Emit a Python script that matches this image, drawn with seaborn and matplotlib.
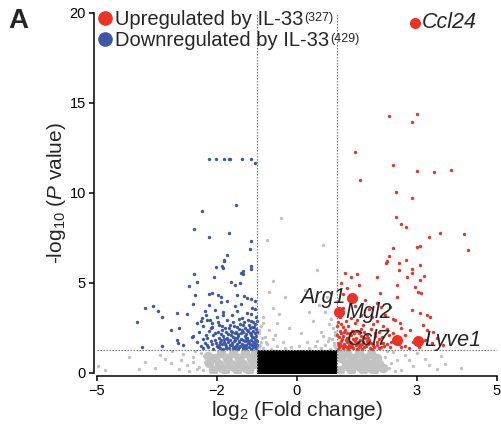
import pandas as pd
import matplotlib
matplotlib.use("Agg")
import matplotlib.pyplot as plt
from matplotlib.lines import Line2D
import seaborn as sns

sns.set_style("ticks")
plt.rcParams["font.family"] = ["Liberation Sans", "DejaVu Sans"]
plt.rcParams["mathtext.fontset"] = "custom"
plt.rcParams["mathtext.rm"] = "Liberation Sans"
plt.rcParams["mathtext.it"] = "Liberation Sans:italic"

RED = "#ec3226"
BLUE = "#3d58a8"
GRAY = "#c2c2c2"

# (log2 fold change, -log10 P)
up_points = [
    (2.31, 14.28), (2.99, 14.37), (2.88, 13.94), (1.44, 12.26), (2.41, 11.56), (3.01, 11.22),
    (3.43, 11.17), (3.84, 11.26), (1.57, 10.74), (2.48, 10.06), (2.87, 9.72), (2.48, 8.69),
    (2.59, 8.28), (2.73, 8.13), (3.30, 7.56), (3.58, 7.78), (4.18, 7.70), (2.39, 6.94),
    (3.01, 6.98), (3.08, 7.04), (4.28, 6.83), (2.31, 6.50), (2.24, 6.20), (2.22, 6.09),
    (2.73, 6.26), (2.54, 6.13), (3.08, 6.02), (2.87, 5.80), (2.56, 5.74),
    (1.21, 5.54), (1.34, 5.35), (1.49, 5.48), (1.99, 5.35), (2.74, 5.35), (2.87, 5.57),
    (3.08, 5.17), (3.18, 5.39), (2.49, 4.89), (2.95, 4.80), (3.03, 4.52), (3.11, 4.43),
    (2.08, 4.43), (2.49, 4.24), (1.70, 4.06), (1.99, 3.87), (2.33, 3.69), (2.87, 3.50),
    (3.08, 3.31), (3.24, 3.22), (3.33, 3.13), (2.45, 2.94), (2.58, 2.76), (3.16, 2.67),
    (3.24, 2.39), (3.41, 2.29), (2.83, 2.39), (3.49, 1.93), (3.37, 1.65), (3.66, 1.56),
    (1.10, 5.00), (1.25, 4.70), (1.55, 4.90), (1.15, 4.40),
    (1.02, 1.36), (1.08, 1.48), (1.14, 1.39), (1.20, 1.52), (1.27, 1.35), (1.33, 1.45),
    (1.40, 1.38), (1.47, 1.55), (1.55, 1.42), (1.63, 1.34), (1.72, 1.50), (1.82, 1.40),
    (1.93, 1.47), (2.05, 1.37), (2.18, 1.52), (2.32, 1.42), (2.60, 1.45), (2.80, 1.38),
    (1.03, 1.68), (1.10, 1.78), (1.18, 1.63), (1.26, 1.74), (1.35, 1.66), (1.44, 1.80),
    (1.53, 1.70), (1.62, 1.62), (1.74, 1.77), (1.86, 1.67), (2.00, 1.74), (2.15, 1.64),
    (2.35, 1.72), (1.05, 1.98), (1.15, 2.06), (1.24, 1.94), (1.36, 2.10), (1.48, 1.96),
    (1.60, 2.05), (1.78, 1.93), (1.95, 2.08), (2.12, 1.98), (2.30, 2.10),
    (1.07, 2.32), (1.20, 2.40), (1.32, 2.25), (1.50, 2.36), (1.68, 2.28), (1.85, 2.42),
    (2.05, 2.30), (2.25, 2.44), (1.10, 2.70), (1.28, 2.62), (1.45, 2.78), (1.65, 2.66),
    (1.90, 2.74), (2.15, 2.62), (1.08, 3.12), (1.35, 3.05), (1.60, 3.20), (1.88, 3.10),
    (2.20, 3.25), (1.15, 3.60), (1.45, 3.75), (1.80, 3.55), (2.10, 3.65),
    (1.05, 1.55), (1.12, 1.90), (1.30, 1.58), (1.42, 2.20), (1.70, 1.95), (1.25, 2.20),
    (1.55, 1.60), (1.90, 1.55), (1.15, 2.55), (1.01, 2.10), (1.01, 2.60), (1.60, 2.45),
    (2.45, 1.90), (2.70, 2.10), (2.55, 1.60), (2.90, 1.70),
    (1.06, 1.42), (1.16, 1.50), (1.24, 1.42), (1.37, 1.52), (1.50, 1.36), (1.58, 1.50),
    (1.68, 1.42), (1.77, 1.60), (1.88, 1.35), (2.00, 1.55), (2.10, 1.42), (2.25, 1.60),
    (1.08, 1.62), (1.22, 1.85), (1.32, 1.75), (1.40, 1.90), (1.57, 1.85), (1.66, 1.75),
    (1.80, 1.85), (2.05, 1.90), (1.10, 2.20), (1.18, 2.30), (1.38, 2.35), (1.55, 2.20),
    (1.75, 2.12), (1.95, 2.25), (1.03, 2.85), (1.22, 2.90), (1.50, 2.95), (2.40, 2.20),
    (2.60, 2.50), (2.70, 1.50), (3.05, 1.45), (3.20, 1.85), (2.40, 3.00), (2.00, 2.90),
]

down_points = [
    (-2.19, 11.9), (-2.03, 11.9), (-1.82, 11.9), (-1.71, 11.9), (-1.68, 11.9), (-1.375, 11.9),
    (-1.15, 11.9), (-1.06, 11.65), (-1.52, 9.33), (-2.37, 9.00), (-2.57, 7.98), (-2.21, 7.57),
    (-1.70, 7.78), (-1.14, 7.33), (-1.18, 6.91), (-1.74, 6.54), (-1.82, 6.26), (-2.03, 5.91),
    (-1.875, 5.94), (-1.85, 5.85), (-1.14, 5.94),
    (-4.01, 2.81), (-3.80, 3.59), (-3.59, 3.74), (-3.475, 3.44), (-3.375, 3.09), (-3.01, 3.31),
    (-3.14, 2.37), (-2.95, 2.52), (-3.01, 1.81), (-2.98, 1.67), (-3.375, 1.48), (-3.87, 1.46),
    (-2.76, 3.28), (-2.71, 4.85), (-2.58, 5.48), (-2.49, 5.07), (-2.54, 4.35), (-2.59, 3.82),
    (-2.84, 1.56), (-2.63, 2.00), (-2.51, 2.76), (-2.38, 3.04), (-2.28, 3.20), (-2.19, 4.37),
    (-2.12, 4.46), (-2.08, 5.35), (-1.83, 6.20), (-1.98, 4.35), (-1.90, 4.24), (-1.76, 4.00),
    (-1.64, 5.06), (-1.55, 4.89), (-1.42, 4.98), (-1.40, 5.57), (-1.36, 5.48), (-1.34, 5.67),
    (-1.14, 5.76), (-1.51, 4.35), (-1.32, 4.28), (-1.24, 4.19), (-1.15, 4.09), (-1.13, 3.63),
    (-1.26, 3.31), (-1.38, 3.04), (-1.63, 3.22), (-1.86, 3.22), (-2.01, 3.13), (-2.13, 2.76),
    (-2.26, 2.94),
    (-2.35, 1.38), (-2.22, 1.47), (-2.10, 1.36), (-2.00, 1.52), (-1.92, 1.40), (-1.85, 1.33),
    (-1.78, 1.48), (-1.70, 1.37), (-1.63, 1.55), (-1.55, 1.41), (-1.48, 1.34), (-1.42, 1.50),
    (-1.35, 1.39), (-1.28, 1.56), (-1.20, 1.42), (-1.14, 1.35), (-1.07, 1.49), (-1.02, 1.38),
    (-2.50, 1.72), (-2.30, 1.64), (-2.15, 1.78), (-2.02, 1.68), (-1.90, 1.82), (-1.80, 1.62),
    (-1.72, 1.75), (-1.62, 1.66), (-1.55, 1.84), (-1.46, 1.70), (-1.38, 1.63), (-1.30, 1.79),
    (-1.22, 1.68), (-1.15, 1.86), (-1.08, 1.72), (-1.03, 1.61),
    (-2.60, 2.05), (-2.25, 1.95), (-2.10, 2.10), (-1.95, 1.92), (-1.85, 2.04), (-1.74, 1.97),
    (-1.66, 2.12), (-1.56, 1.94), (-1.47, 2.06), (-1.40, 1.91), (-1.31, 2.08), (-1.24, 1.96),
    (-1.16, 2.13), (-1.09, 1.99), (-1.03, 2.07),
    (-2.45, 2.28), (-2.20, 2.36), (-2.05, 2.22), (-1.88, 2.40), (-1.78, 2.26), (-1.65, 2.34),
    (-1.55, 2.21), (-1.45, 2.42), (-1.34, 2.27), (-1.26, 2.38), (-1.18, 2.24), (-1.10, 2.35),
    (-1.04, 2.20), (-2.35, 2.62), (-2.12, 2.55), (-1.95, 2.68), (-1.80, 2.52), (-1.68, 2.64),
    (-1.50, 2.58), (-1.42, 2.72), (-1.30, 2.50), (-1.20, 2.66), (-1.12, 2.56), (-1.05, 2.74),
    (-2.40, 2.88), (-2.18, 2.96), (-1.98, 2.84), (-1.76, 2.92), (-1.60, 2.82), (-1.45, 2.98),
    (-1.33, 2.86), (-1.22, 2.94), (-1.10, 2.83), (-2.30, 3.42), (-2.05, 3.50), (-1.86, 3.38),
    (-1.50, 3.46), (-1.15, 3.26), (-1.06, 3.54), (-2.20, 3.76), (-1.90, 3.92), (-1.55, 3.70),
    (-1.40, 3.84), (-1.05, 3.98),
    (-1.95, 1.58), (-1.75, 1.88), (-1.50, 1.60), (-1.33, 1.45), (-1.25, 1.85), (-1.12, 1.55),
    (-1.05, 1.90), (-1.60, 2.00), (-1.40, 2.20), (-1.70, 2.50), (-1.90, 2.15), (-2.35, 1.90),
    (-1.18, 2.48), (-1.02, 2.42), (-1.58, 1.46), (-1.82, 1.72), (-2.05, 1.82), (-1.45, 1.78),
    (-1.10, 1.70), (-1.28, 2.15), (-1.52, 2.30), (-2.15, 2.50), (-1.00, 1.55), (-1.00, 1.80),
    (-1.01, 2.30), (-1.01, 2.90),
    (-1.97, 1.45), (-1.88, 1.60), (-1.77, 1.40), (-1.68, 1.58), (-1.60, 1.38), (-1.52, 1.52),
    (-1.44, 1.42), (-1.36, 1.55), (-1.27, 1.40), (-1.18, 1.60), (-1.10, 1.44), (-1.05, 1.62),
    (-1.93, 1.75), (-1.83, 1.90), (-1.67, 1.85), (-1.58, 1.77), (-1.50, 1.95), (-1.35, 1.85),
    (-1.27, 1.95), (-1.19, 1.78), (-1.12, 2.02), (-1.04, 1.50), (-2.25, 1.55), (-2.12, 1.60),
    (-2.40, 1.50), (-1.73, 2.15), (-1.63, 2.28), (-1.48, 2.15), (-1.38, 2.40), (-1.22, 2.35),
    (-1.14, 2.20), (-1.07, 2.55), (-1.97, 2.30), (-2.28, 2.10), (-1.87, 2.60), (-1.58, 2.60),
    (-1.36, 2.65), (-1.16, 2.90), (-1.03, 3.10),
]

# not significant, sparse points
ns_points = [
    (-3.43, 1.00), (-3.30, 0.76), (-3.79, 0.59), (-3.13, 1.20), (-3.14, 0.57), (-3.55, 0.28),
    (-2.94, 0.24), (-4.80, 0.17), (-4.97, 0.41), (-2.60, 0.90), (-2.75, 0.45), (-2.50, 0.20),
    (-2.40, 1.10), (-2.85, 1.05), (-2.30, 0.60), (-2.60, 0.60), (-2.90, 0.75), (-2.45, 0.35),
    (-4.20, 0.90), (-3.95, 0.20), (-2.35, 0.15), (-2.55, 1.20), (-2.70, 0.10), (-2.32, 0.95),
    (2.30, 0.30), (2.50, 0.70), (2.70, 1.00), (2.90, 0.40), (3.20, 0.80), (3.50, 0.20),
    (3.70, 0.50), (2.40, 1.15), (3.00, 1.10), (4.10, 0.30), (2.20, 0.90), (2.60, 0.15),
    (3.30, 0.45), (2.35, 0.55), (2.80, 0.70), (3.60, 0.95), (2.25, 1.20), (2.45, 0.10),
    (-0.75, 7.40), (-0.40, 8.60), (0.65, 7.10), (0.50, 5.70), (-0.30, 4.20), (0.20, 4.60),
    (-0.60, 3.60), (0.70, 3.40), (-0.85, 3.10), (0.85, 3.00), (-0.50, 2.80), (0.40, 2.90),
    (-0.90, 2.60), (0.90, 2.50), (-0.70, 2.40), (0.60, 2.30), (-0.20, 2.50), (0.10, 2.20),
    (-0.95, 2.20), (0.95, 2.10), (-0.80, 2.00), (0.80, 1.95), (-0.60, 1.90), (0.50, 1.80),
    (-0.35, 1.75), (0.25, 1.70), (-0.90, 1.70), (0.92, 1.65), (-0.75, 1.60), (0.70, 1.55),
    (-0.50, 1.50), (0.45, 1.50), (-0.15, 1.45), (0.05, 1.50), (-0.95, 1.45), (0.95, 1.42),
    (-0.85, 1.38), (0.82, 1.36), (-0.65, 1.36), (0.60, 1.38), (-0.30, 1.40), (0.30, 1.38),
    (-0.45, 3.30), (0.55, 3.80), (0.30, 3.40), (-0.70, 4.50), (-0.60, 5.10), (0.75, 4.20),
    (-0.92, 1.55), (-0.78, 1.75), (0.92, 1.55), (0.78, 1.80), (-0.88, 1.95), (0.88, 1.90),
    (-0.95, 2.40), (0.95, 2.30), (-0.85, 2.80), (0.80, 2.70), (-0.55, 2.10), (0.65, 2.05),
]

# not significant, dense band next to the core
ns_dense = [
    (-2.10, 0.15), (-1.95, 0.50), (-1.80, 0.15), (-1.65, 0.50), (-1.50, 0.15), (-1.35, 0.50),
    (-1.20, 0.15), (-1.08, 0.50), (-2.05, 0.85), (-1.90, 1.10), (-1.75, 0.85), (-1.60, 1.10),
    (-1.45, 0.85), (-1.30, 1.10), (-1.15, 0.85), (-1.06, 1.10), (-2.20, 0.55), (-1.88, 0.30),
    (-1.58, 0.32), (-1.28, 0.30), (-1.72, 0.65), (-1.42, 0.65), (-1.12, 0.65), (-2.22, 0.95),
    (1.08, 0.15), (1.22, 0.50), (1.36, 0.15), (1.50, 0.50), (1.64, 0.15), (1.78, 0.50),
    (1.92, 0.15), (2.05, 0.50), (1.10, 0.85), (1.25, 1.10), (1.40, 0.85), (1.55, 1.10),
    (1.70, 0.85), (1.85, 1.08), (2.00, 0.85), (1.06, 1.10), (1.30, 0.32), (1.58, 0.32),
    (1.85, 0.30), (1.32, 0.65), (1.62, 0.65), (1.95, 0.65), (2.15, 0.30),
]

# |log2 FC| < 1 and P > 0.05
core_points = [
    (-0.90, 0.12), (-0.75, 0.12), (-0.60, 0.12), (-0.45, 0.12), (-0.30, 0.12), (-0.15, 0.12),
    (0.00, 0.12), (0.15, 0.12), (0.30, 0.12), (0.45, 0.12), (0.60, 0.12), (0.75, 0.12), (0.90, 0.12),
    (-0.90, 0.45), (-0.75, 0.45), (-0.60, 0.45), (-0.45, 0.45), (-0.30, 0.45), (-0.15, 0.45),
    (0.00, 0.45), (0.15, 0.45), (0.30, 0.45), (0.45, 0.45), (0.60, 0.45), (0.75, 0.45), (0.90, 0.45),
    (-0.90, 0.78), (-0.75, 0.78), (-0.60, 0.78), (-0.45, 0.78), (-0.30, 0.78), (-0.15, 0.78),
    (0.00, 0.78), (0.15, 0.78), (0.30, 0.78), (0.45, 0.78), (0.60, 0.78), (0.75, 0.78), (0.90, 0.78),
    (-0.90, 1.07), (-0.75, 1.07), (-0.60, 1.07), (-0.45, 1.07), (-0.30, 1.07), (-0.15, 1.07),
    (0.00, 1.07), (0.15, 1.07), (0.30, 1.07), (0.45, 1.07), (0.60, 1.07), (0.75, 1.07), (0.90, 1.07),
]

gene_names = ["Ccl24", "Arg1", "Mgl2", "Ccl7", "Lyve1"]
gene_fc = [2.96, 1.38, 1.06, 2.50, 3.03]
gene_logp = [19.45, 4.19, 3.37, 1.85, 1.78]
gene_side = ["right", "left", "right", "left", "right"]

n_up = 327
n_down = 429


def to_df(pts):
    return pd.DataFrame(pts, columns=["log2fc", "logp"])


fig = plt.figure(figsize=(5.02, 4.28), dpi=100)
ax = fig.add_axes([97 / 502, 55 / 428, 400 / 502, 360 / 428])

kw = dict(x="log2fc", y="logp", linewidth=0, ax=ax, legend=False)
sns.scatterplot(data=to_df(ns_dense), color=GRAY, s=48, **kw)
sns.scatterplot(data=to_df(ns_points), color=GRAY, s=6, **kw)
sns.scatterplot(data=to_df(core_points), color="black", marker="s", s=40, **kw)
sns.scatterplot(data=to_df(up_points), color=RED, s=6, **kw)
sns.scatterplot(data=to_df(down_points), color=BLUE, s=6, **kw)

genes = pd.DataFrame({"log2fc": gene_fc, "logp": gene_logp, "name": gene_names, "side": gene_side})
sns.scatterplot(data=genes, color=RED, s=64, zorder=6, clip_on=False, **kw)
for _, g in genes.iterrows():
    dx = 4.5 if g["side"] == "right" else -5
    ax.annotate(g["name"], (g["log2fc"], g["logp"]), xytext=(dx, 0), textcoords="offset points",
                ha="left" if g["side"] == "right" else "right", va="center",
                fontsize=15.5, style="italic", zorder=7)

# thresholds
dot = dict(color="#808080", lw=0.9, ls=(0, (1.2, 1.2)), zorder=5)
ax.axvline(-1, **dot)
ax.axvline(1, **dot)
ax.axhline(1.3, **dot)

ax.set_xlim(-5, 5)
ax.set_ylim(0, 20)
ax.set_xticks([-5, -2, 0, 3, 5])
ax.set_yticks([0, 5, 10, 15, 20])
sns.despine(ax=ax, offset=2.5)
for sp in ["left", "bottom"]:
    ax.spines[sp].set_linewidth(1.1)
    ax.spines[sp].set_color("black")
ax.tick_params(length=3.5, width=1.1, labelsize=10.5, colors="black", pad=2)

ax.set_xlabel(r"log$_{2}$ (Fold change)", fontsize=15, labelpad=1)
ax.set_ylabel(r"-log$_{10}$ ($\mathit{P}$ value)", fontsize=15, labelpad=1)

handles = [Line2D([], [], marker="o", ls="", color=RED, markersize=9.5),
           Line2D([], [], marker="o", ls="", color=BLUE, markersize=9.5)]
labels = ["Upregulated by IL-33", "Downregulated by IL-33"]
leg = ax.legend(handles, labels, loc="upper left", bbox_to_anchor=(-0.005, 1.008), frameon=False,
                fontsize=14.5, handlelength=1.0, handletextpad=0.0, borderpad=0, borderaxespad=0,
                labelspacing=0.1)

# gene counts as small text after each legend entry
fig.canvas.draw()
for txt, n in zip(leg.get_texts(), [n_up, n_down]):
    bb = txt.get_window_extent()
    fig.text((bb.x1 + 1) / fig.bbox.width, (bb.y0 + 8) / fig.bbox.height, "(%d)" % n,
             ha="left", va="baseline", fontsize=9)

fig.text(8 / 502, 1 - 8 / 428, "A", fontsize=20, fontweight="bold", va="top", ha="left")

fig.savefig("out.png", dpi=100)
